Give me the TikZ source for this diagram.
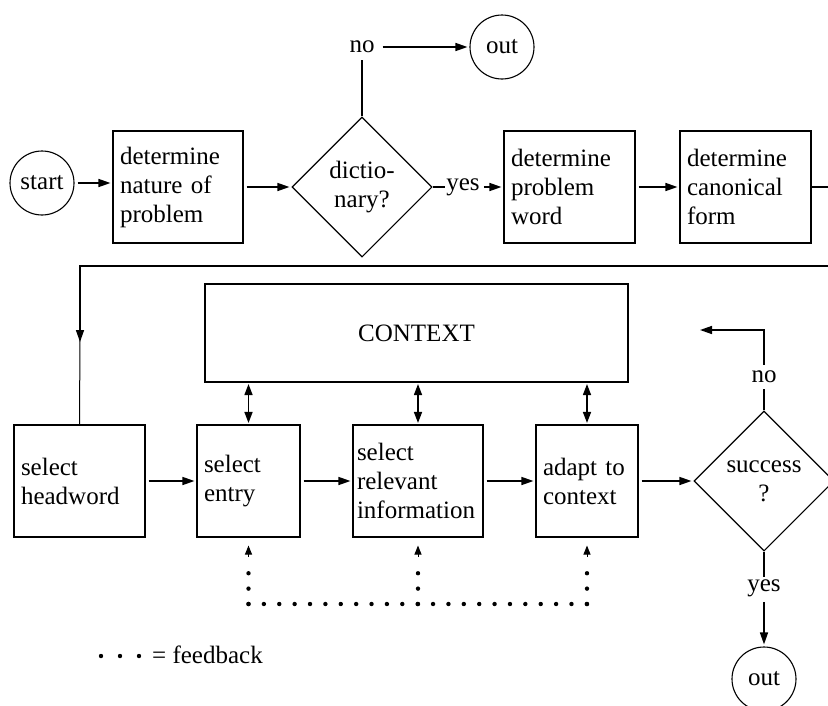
\documentclass[tikz,border=0pt]{standalone}
\usepackage{fontspec}
\setmainfont{Liberation Serif}
\usetikzlibrary{shapes.geometric,arrows.meta}
\begin{document}
\begin{tikzpicture}[x=1pt,y=-1pt,
every node/.style={font=\fontsize{25}{29}\selectfont},
box/.style={draw,line width=1.1pt,rectangle,minimum height=112pt,inner xsep=7pt,text width=#1,align=left},
decision/.style={draw,line width=1.1pt,diamond,minimum width=140pt,minimum height=140pt,inner sep=0pt,align=center},
terminal/.style={draw,line width=1.1pt,circle,minimum size=64pt,inner sep=0pt},
tag/.style={inner sep=2pt},
link/.style={line width=1.2pt},
flow/.style={line width=1.5pt,-{Triangle[length=12pt,width=8pt]},shorten <=3pt,shorten >=2pt},
both/.style={line width=1.5pt,{Triangle[length=11pt,width=8pt]}-{Triangle[length=11pt,width=8pt]},shorten <=1.5pt,shorten >=1.5pt},
dots/.style={line width=4.4pt,line cap=round,dash pattern=on 0pt off 15.38pt},
feedtip/.style={line width=1pt,-{Triangle[length=9pt,width=7pt]},shorten >=8pt}]
\useasboundingbox (0,0) rectangle (828,705);
\clip (0,0) rectangle (828,705);
\node[terminal](start) at (42,183){start};
\node[box=116pt](nature) at (178,187){determine\\nature of\\problem};
\node[decision](dict) at (362,187){dictio-\\nary?};
\node[tag,inner xsep=5pt,inner ysep=7pt](dictNo) at (362,47){no};
\node[terminal](outTop) at (502,47){out};
\node[tag,inner xsep=1pt](dictYes) at (463,187){yes};
\node[box=117pt](problem) at (569.5,187){determine\\problem\\word};
\node[box=117pt](canonical) at (745.5,187){determine\\canonical\\form};
\node[draw,line width=1.1pt,minimum width=423pt,minimum height=98pt](context) at (416.5,333){CONTEXT};
\node[box=117pt](headword) at (79.5,481){select\\headword};
\node[box=89pt](entry) at (248.5,481){select\\entry};
\node[box=122pt,inner xsep=4pt](relevant) at (418,481){select\\relevant\\information};
\node[box=88pt](adapt) at (587,481){adapt to\\context};
\node[decision](success) at (764,481){success\\?};
\node[tag,inner xsep=5pt,inner ysep=6pt](successNo) at (764,377){no};
\node[tag](successYes) at (764,588){yes};
\node[terminal](outBottom) at (764,679){out};
\node[anchor=west,inner sep=0pt](legend) at (152,655){= feedback};
\coordinate(rightTurn) at (850,187);
\coordinate(rightDown) at (850,266);
\coordinate(leftDown) at (80,266);
\coordinate(headArrow) at (80,342);
\coordinate(headStem) at (80,336);
\coordinate(noTurn) at (764,330);
\coordinate(noEnd) at (698,330);
\coordinate(fbEntry) at (248.5,604);
\coordinate(fbRelevant) at (418,604);
\coordinate(fbAdapt) at (587,604);
\coordinate(tipRow) at (0,557);
\coordinate(legFirst) at (101,656);
\coordinate(legLast) at (139,656);
\draw[flow](start.east)--(start.east -| nature.west);
\draw[flow](nature)--(dict);
\draw[link](dict.north)--(dictNo.south);
\draw[flow](dictNo)--(outTop);
\draw[link](dict.east)--(dictYes.west);
\draw[flow](dictYes)--(problem);
\draw[flow](problem)--(canonical);
\draw[flow,shorten <=0pt,shorten >=0pt](canonical.east)--(rightTurn)--(rightDown)--(leftDown)--(headArrow);
\draw[line width=1pt](headStem)--(headword.north);
\draw[flow](headword)--(entry);
\draw[flow](entry)--(relevant);
\draw[flow](relevant)--(adapt);
\draw[flow](adapt)--(success);
\foreach \b in {entry,relevant,adapt}
  \draw[both](\b.north |- context.south)--(\b.north);
\draw[link](success.north)--(successNo.south);
\draw[flow,shorten <=0pt](successNo.north)--(noTurn)--(noEnd);
\draw[link](success.south)--(successYes.north);
\draw[flow](successYes)--(outBottom);
\draw[dots](fbEntry)--(fbAdapt);
\foreach \b/\f in {entry/fbEntry,relevant/fbRelevant,adapt/fbAdapt}{
  \draw[dots](\f)--++(0,-30.8);
  \draw[feedtip](\b.south |- tipRow)--(\b.south);
}
\draw[dots,dash pattern=on 0pt off 19pt](legFirst)--(legLast);
\end{tikzpicture}
\end{document}
